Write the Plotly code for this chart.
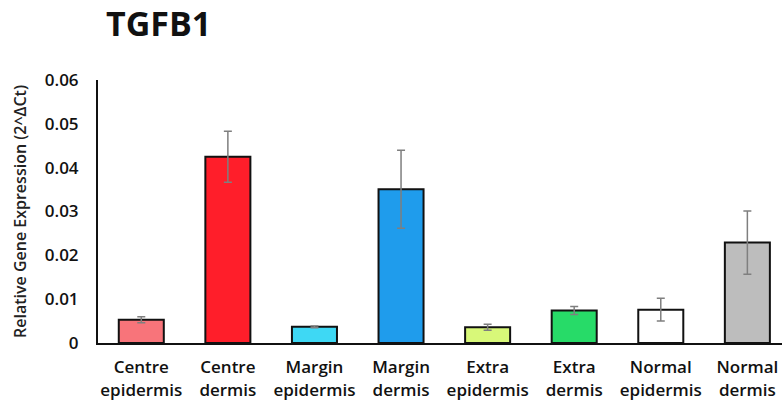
import plotly.graph_objects as go

# Sample groups and their TGFB1 expression (2^ΔCt)
categories = ["Centre<br>epidermis", "Centre<br>dermis", "Margin<br>epidermis", "Margin<br>dermis",
              "Extra<br>epidermis", "Extra<br>dermis", "Normal<br>epidermis", "Normal<br>dermis"]
expression = [0.0053, 0.0425, 0.0037, 0.0351, 0.0036, 0.0074, 0.0076, 0.0229]
error = [0.0007, 0.0058, 0.0002, 0.0089, 0.0007, 0.0009, 0.0026, 0.0072]
colors = ["#F8747A", "#FF1E2A", "#3ED8F4", "#1F9CEC", "#D8F879", "#27DB68", "#FFFFFF", "#BDBDBD"]
y_ticks = [0, 0.01, 0.02, 0.03, 0.04, 0.05, 0.06]
y_tick_text = ["0", "0.01", "0.02", "0.03", "0.04", "0.05", "0.06"]

font_family = "Open Sans, Lato, DejaVu Sans, sans-serif"

fig = go.Figure(go.Bar(
    x=list(range(len(categories))),
    y=expression,
    width=0.52,
    marker=dict(color=colors, line=dict(color="#111111", width=2)),
    error_y=dict(type="data", array=error, color="#7F7F7F", thickness=1.5, width=4),
))

fig.update_layout(
    width=782, height=409,
    margin=dict(l=98, r=0, t=80, b=66),
    paper_bgcolor="white", plot_bgcolor="white",
    showlegend=False,
    font=dict(family=font_family, color="#111111"),
    title=dict(text="<b>TGFB1</b>", x=106 / 782, xanchor="left", y=1 - 24 / 409, yanchor="middle",
               font=dict(size=34, color="#111111", family=font_family)),
)

fig.update_xaxes(
    range=[-0.5, 7.4],
    tickmode="array", tickvals=list(range(len(categories))), ticktext=categories,
    tickfont=dict(size=17, color="#111111", weight=600),
    ticks="outside", ticklen=8, tickcolor="rgba(0,0,0,0)",
    showline=True, linecolor="#111111", linewidth=2,
    showgrid=False, zeroline=False,
)

fig.update_yaxes(
    range=[0, 0.06],
    tickmode="array", tickvals=y_ticks, ticktext=y_tick_text,
    tickfont=dict(size=17, color="#111111", weight=600),
    ticks="outside", ticklen=14, tickcolor="rgba(0,0,0,0)",
    showline=True, linecolor="#111111", linewidth=2,
    showgrid=False, zeroline=False,
    title=dict(text="Relative Gene Expression (2^ΔCt)",
               font=dict(size=16, color="#222222", weight=600), standoff=14),
)

fig.write_html("out.html")
